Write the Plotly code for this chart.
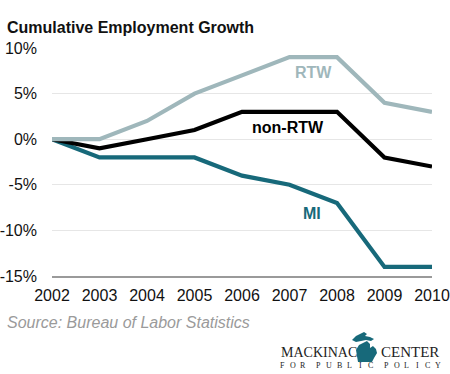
import plotly.graph_objects as go

years = [2002, 2003, 2004, 2005, 2006, 2007, 2008, 2009, 2010]
rtw = [0, 0, 2, 5, 7, 9, 9, 4, 3]
non_rtw = [0, -1, 0, 1, 3, 3, 3, -2, -3]
mi = [0, -2, -2, -2, -4, -5, -7, -14, -14]
ytick_vals = [-15, -10, -5, 0, 5, 10]
ytick_text = ["-15%", "-10%", "-5%", "0%", "5%", "10%"]

C_RTW = "#9fb7bb"
C_NON = "#000000"
C_MI = "#17697a"

W, H = 450, 374
L, R, T, B = 52, 18, 48, 98
PW, PH = W - L - R, H - T - B


def px(x):
    return (x - L) / PW


def py(y):
    return (H - B - y) / PH


fig = go.Figure()
for name, vals, col in [("MI", mi, C_MI), ("non-RTW", non_rtw, C_NON), ("RTW", rtw, C_RTW)]:
    fig.add_trace(go.Scatter(x=years, y=vals, mode="lines", name=name,
                             line=dict(color=col, width=4.2), hoverinfo="skip"))

fig.add_annotation(x=2007.5, y=7.3, text="<b>RTW</b>", showarrow=False,
                   font=dict(size=16, color=C_RTW, family="Liberation Sans, Arial"))
fig.add_annotation(x=2006.97, y=1.27, text="<b>non-RTW</b>", showarrow=False,
                   font=dict(size=16, color=C_NON, family="Liberation Sans, Arial"))
fig.add_annotation(x=2007.47, y=-8.1, text="<b>MI</b>", showarrow=False,
                   font=dict(size=16, color=C_MI, family="Liberation Sans, Arial"))

# Title
fig.add_annotation(xref="paper", yref="paper", x=px(5), y=py(27), xanchor="left", yanchor="middle",
                   text="<b>Cumulative Employment Growth</b>", showarrow=False,
                   font=dict(size=16, color="#111111", family="Liberation Sans, Arial"))
# Source
fig.add_annotation(xref="paper", yref="paper", x=px(5), y=py(322), xanchor="left", yanchor="middle",
                   text="<i>Source: Bureau of Labor Statistics</i>", showarrow=False,
                   font=dict(size=16, color="#9a9a9a", family="Liberation Sans, Arial"))

# Logo text
fig.add_annotation(xref="paper", yref="paper", x=px(279), y=py(352), xanchor="left", yanchor="middle",
                   text="MACKINAC", showarrow=False,
                   font=dict(size=14, color="#222222", family="Liberation Serif, Times New Roman"))
fig.add_annotation(xref="paper", yref="paper", x=px(441), y=py(352), xanchor="right", yanchor="middle",
                   text="CENTER", showarrow=False,
                   font=dict(size=15, color="#222222", family="Liberation Serif, Times New Roman"))

tag_words = ["FOR", "PUBLIC", "POLICY"]
pos = 282.5
for wi, word in enumerate(tag_words):
    for ch in word:
        fig.add_annotation(xref="paper", yref="paper", x=px(pos), y=py(365), xanchor="center",
                           yanchor="middle", text=ch, showarrow=False,
                           font=dict(size=8, color="#222222", family="Liberation Serif, Times New Roman"))
        pos += 10.3
    pos += 5.5

# Michigan shape (approximate) in pixel coordinates
up = [(352, 340), (356, 336), (360, 334), (364, 332), (367, 334), (365, 336), (370, 337),
      (374, 339), (371, 341), (366, 340), (361, 341), (356, 342)]
lp = [(363, 343), (367, 341), (370, 344), (370, 348), (373, 346), (376, 349), (377, 353),
      (374, 358), (372, 362), (358, 362), (357, 356), (356, 350), (359, 345)]


def path_of(pts):
    s = "M " + " L ".join(f"{px(a):.4f},{py(b):.4f}" for a, b in pts) + " Z"
    return s


for pts in (up, lp):
    fig.add_shape(type="path", xref="paper", yref="paper", path=path_of(pts),
                  fillcolor=C_MI, line=dict(width=0))

fig.update_layout(
    width=W, height=H,
    margin=dict(l=L, r=R, t=T, b=B, autoexpand=False),
    paper_bgcolor="white", plot_bgcolor="white",
    showlegend=False,
    font=dict(family="Liberation Sans, Arial", size=16, color="#111111"),
    xaxis=dict(range=[2002, 2010], tickvals=years, ticktext=[str(y) for y in years],
               showgrid=False, zeroline=False, showline=True, linecolor="#9a9a9a", linewidth=1.5,
               ticks="", tickfont=dict(size=16, color="#111111"), ticklabelstandoff=4,
               automargin=False),
    yaxis=dict(range=[-15, 10], tickvals=ytick_vals, ticktext=ytick_text,
               showgrid=True, gridcolor="#e6e6e6", gridwidth=1, zeroline=False, showline=False,
               ticks="", tickfont=dict(size=16, color="#111111"), ticklabelstandoff=14,
               automargin=False),
)

fig.write_html("out.html", config={"displayModeBar": False},
               post_script="document.body.style.margin='0';")
